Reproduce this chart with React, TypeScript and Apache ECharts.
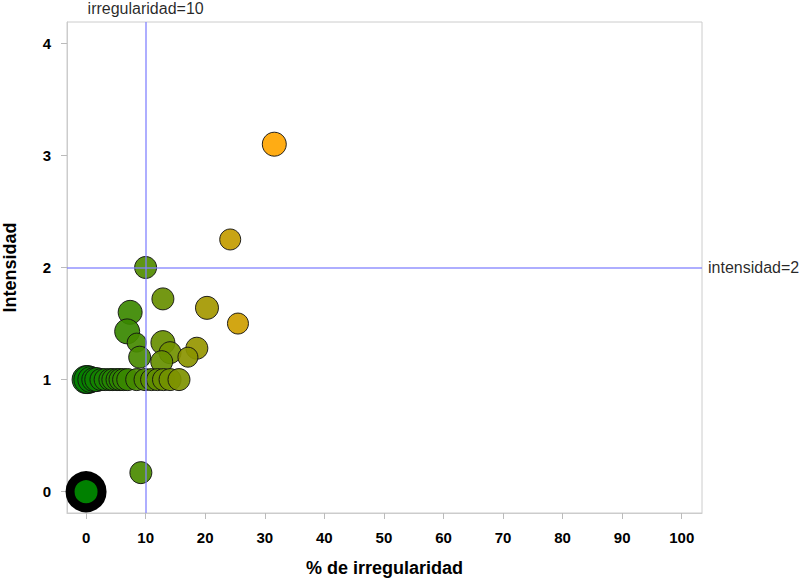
import React, { useEffect, useRef } from "react";
import * as echarts from "echarts";

// % de irregularidad, intensidad, bubble diameter
const irregularidad = [31.6, 24.2, 10.0, 12.9, 20.3, 25.5, 7.4, 6.9, 8.5, 12.9, 18.6, 14.1, 9.0, 17.1, 12.7, 9.2,
  0.0, 0.3, 0.8, 1.3, 1.8, 2.5, 3.2, 4.0, 4.5, 5.2, 5.7, 6.3, 7.0, 8.5, 9.9, 11.0, 12.0, 13.0, 14.1, 15.6];
const intensidad = [3.1, 2.25, 2.0, 1.72, 1.64, 1.5, 1.6, 1.43, 1.33, 1.33, 1.28, 1.24, 1.2, 1.2, 1.16, 0.17,
  1.0, 1.0, 1.0, 1.0, 1.0, 1.0, 1.0, 1.0, 1.0, 1.0, 1.0, 1.0, 1.0, 1.0, 1.0, 1.0, 1.0, 1.0, 1.0, 1.0];
const tamano = [24, 21, 22, 22, 23, 21, 24, 25, 19, 24, 22, 22, 22, 20, 22, 22,
  28, 28, 26, 24, 24, 22, 22, 22, 22, 22, 22, 22, 22, 22, 22, 22, 22, 22, 22, 22];
const origen = [[0, 0]];
const xTicks = [0, 10, 20, 30, 40, 50, 60, 70, 80, 90, 100];
const yTicks = [0, 1, 2, 3, 4];
const refX = 10;
const refY = 2;

export default function App() {
  const ref = useRef<HTMLDivElement>(null);
  useEffect(() => {
    document.body.style.margin = "0";
    const chart = echarts.init(ref.current!, undefined, { renderer: "svg" });
    const font = "'Liberation Sans', Arial, sans-serif";
    const data = irregularidad.map((x, i) => [x, intensidad[i], tamano[i]]);
    chart.setOption({
      animation: false,
      textStyle: { fontFamily: font },
      grid: {
        left: 67, top: 22, right: 105, bottom: 67, show: true, borderColor: "#cccccc", borderWidth: 1,
        containLabel: false, outerBoundsMode: "none",
      },
      xAxis: {
        type: "value",
        min: -3.2,
        max: 103.4,
        name: "% de irregularidad",
        nameLocation: "middle",
        nameGap: 46,
        nameTextStyle: { fontSize: 18, fontWeight: "bold", color: "#000", fontFamily: font },
        axisLine: { show: true, onZero: false, lineStyle: { color: "#cccccc" } },
        axisTick: { show: true, length: 6, customValues: xTicks, lineStyle: { color: "#bbbbbb" } },
        axisLabel: { customValues: xTicks, margin: 17, fontSize: 15, fontWeight: "bold", color: "#000", fontFamily: font },
        splitLine: { show: false },
      },
      yAxis: {
        type: "value",
        min: -0.19,
        max: 4.19,
        name: "Intensidad",
        nameLocation: "middle",
        nameGap: 48,
        nameTextStyle: { fontSize: 18, fontWeight: "bold", color: "#000", fontFamily: font },
        axisLine: { show: true, onZero: false, lineStyle: { color: "#cccccc" } },
        axisTick: { show: true, length: 6, customValues: yTicks, lineStyle: { color: "#bbbbbb" } },
        axisLabel: { customValues: yTicks, margin: 16, fontSize: 15, fontWeight: "bold", color: "#000", fontFamily: font },
        splitLine: { show: false },
      },
      visualMap: {
        show: false,
        type: "continuous",
        seriesIndex: 0,
        dimension: 0,
        min: 0,
        max: 31.6,
        inRange: { color: ["#008000", "#FFA500"] },
      },
      series: [
        {
          type: "scatter",
          data,
          symbolSize: (v: number[]) => v[2],
          itemStyle: { borderColor: "#111", borderWidth: 1, opacity: 0.92 },
        },
        {
          type: "scatter",
          data: origen,
          symbolSize: 32,
          itemStyle: { color: "#008000", borderColor: "#000", borderWidth: 9, opacity: 1 },
          markLine: {
            silent: true,
            symbol: "none",
            lineStyle: { color: "#8080ff", width: 1.5, type: "solid", opacity: 0.85 },
            label: { show: true, color: "#000", fontSize: 16, fontFamily: font, distance: 6 },
            data: [
              { xAxis: refX, label: { formatter: "irregularidad=" + refX, position: "end" } },
              { yAxis: refY, label: { formatter: "intensidad=" + refY, position: "end" } },
            ],
          },
        },
      ],
    });
    return () => chart.dispose();
  }, []);
  return <div ref={ref} style={{ width: 807, height: 580 }} />;
}
